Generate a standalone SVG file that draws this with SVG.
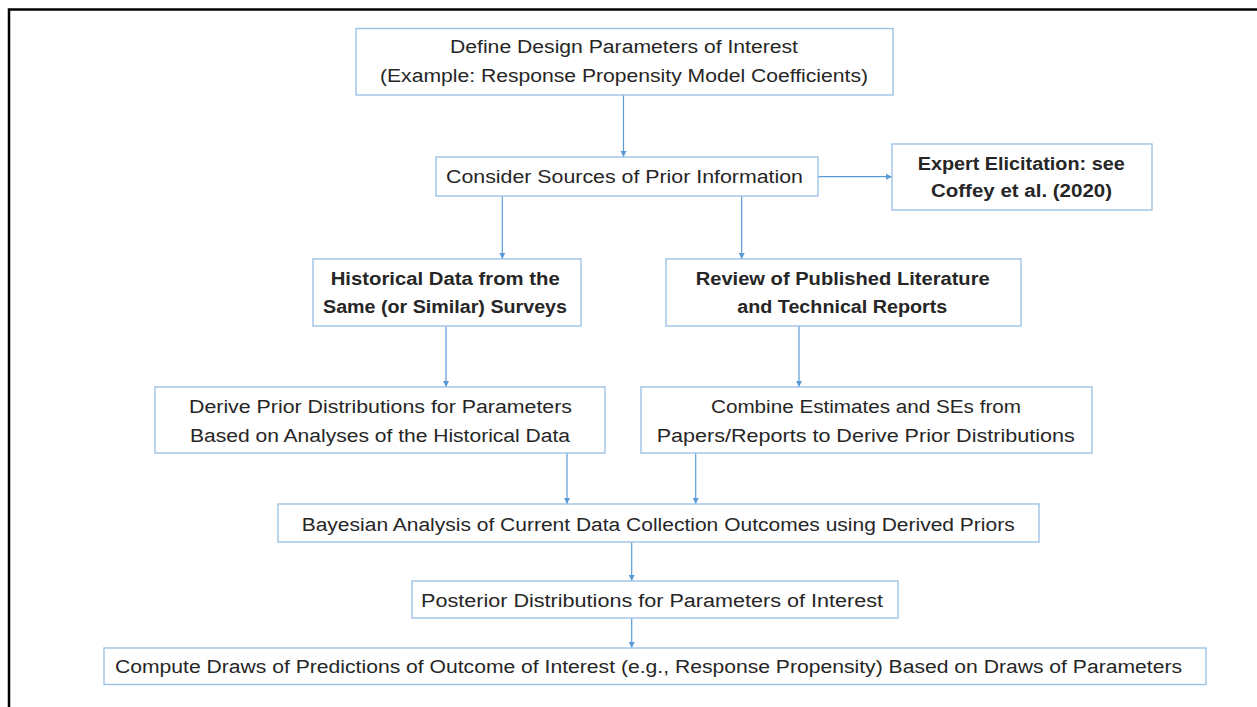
<svg xmlns="http://www.w3.org/2000/svg" width="1257" height="707" viewBox="0 0 1257 707">
<defs>
<style>
.box{fill:#ffffff;stroke:#9DC3E6;stroke-width:1.4}
.t{font-family:"Liberation Sans",Arial,sans-serif;font-size:18px;fill:#262626}
.b{font-weight:bold}
.c{stroke:#5B9BD5;stroke-width:1.2;fill:none;marker-end:url(#ah)}
</style>
<marker id="ah" markerUnits="userSpaceOnUse" markerWidth="7" markerHeight="7" refX="6" refY="3" orient="auto">
<path d="M0,0 L6,3 L0,6 z" fill="#5B9BD5"/>
</marker>
</defs>
<rect x="0" y="0" width="1257" height="707" fill="#ffffff"/>
<path d="M9,710 L9,9.5 L1260,9.5" fill="none" stroke="#000000" stroke-width="2.5"/>

<g id="connectors">
<line class="c" x1="623.5" y1="95" x2="623.5" y2="157"/>
<line class="c" x1="818" y1="176.7" x2="892" y2="176.7"/>
<line class="c" x1="502.3" y1="196" x2="502.3" y2="259"/>
<line class="c" x1="741.7" y1="196" x2="741.7" y2="259"/>
<line class="c" x1="446" y1="326" x2="446" y2="387"/>
<line class="c" x1="799" y1="326" x2="799" y2="387"/>
<line class="c" x1="567" y1="453" x2="567" y2="504"/>
<line class="c" x1="695.7" y1="453" x2="695.7" y2="504"/>
<line class="c" x1="631.7" y1="542" x2="631.7" y2="581"/>
<line class="c" x1="631.7" y1="618" x2="631.7" y2="648"/>
</g>

<g id="n1">
<rect class="box" x="356" y="28.5" width="537" height="66.5"/>
<text class="t" x="450" y="53" textLength="348" lengthAdjust="spacingAndGlyphs">Define Design Parameters of Interest</text>
<text class="t" x="380" y="82" textLength="488" lengthAdjust="spacingAndGlyphs">(Example: Response Propensity Model Coefficients)</text>
</g>

<g id="n2">
<rect class="box" x="436" y="157" width="382" height="39"/>
<text class="t" x="446" y="183" textLength="357" lengthAdjust="spacingAndGlyphs">Consider Sources of Prior Information</text>
</g>

<g id="n3">
<rect class="box" x="892" y="144" width="260" height="66"/>
<text class="t b" x="917.7" y="170" textLength="207" lengthAdjust="spacingAndGlyphs">Expert Elicitation: see</text>
<text class="t b" x="931" y="197" textLength="181" lengthAdjust="spacingAndGlyphs">Coffey et al. (2020)</text>
</g>

<g id="n4">
<rect class="box" x="313" y="259" width="268" height="67"/>
<text class="t b" x="330.7" y="285" textLength="229" lengthAdjust="spacingAndGlyphs">Historical Data from the</text>
<text class="t b" x="323" y="313" textLength="244" lengthAdjust="spacingAndGlyphs">Same (or Similar) Surveys</text>
</g>

<g id="n5">
<rect class="box" x="666" y="259" width="355" height="67"/>
<text class="t b" x="695.7" y="285" textLength="294" lengthAdjust="spacingAndGlyphs">Review of Published Literature</text>
<text class="t b" x="737.3" y="313" textLength="210" lengthAdjust="spacingAndGlyphs">and Technical Reports</text>
</g>

<g id="n6">
<rect class="box" x="155" y="387" width="450" height="66"/>
<text class="t" x="189" y="413" textLength="383" lengthAdjust="spacingAndGlyphs">Derive Prior Distributions for Parameters</text>
<text class="t" x="190" y="441.5" textLength="380" lengthAdjust="spacingAndGlyphs">Based on Analyses of the Historical Data</text>
</g>

<g id="n7">
<rect class="box" x="641" y="387" width="451" height="66"/>
<text class="t" x="711" y="413" textLength="310" lengthAdjust="spacingAndGlyphs">Combine Estimates and SEs from</text>
<text class="t" x="656.7" y="441.5" textLength="418" lengthAdjust="spacingAndGlyphs">Papers/Reports to Derive Prior Distributions</text>
</g>

<g id="n8">
<rect class="box" x="278" y="504" width="761" height="38"/>
<text class="t" x="301.7" y="530.5" textLength="713" lengthAdjust="spacingAndGlyphs">Bayesian Analysis of Current Data Collection Outcomes using Derived Priors</text>
</g>

<g id="n9">
<rect class="box" x="412" y="581" width="486" height="37"/>
<text class="t" x="421" y="606.5" textLength="462" lengthAdjust="spacingAndGlyphs">Posterior Distributions for Parameters of Interest</text>
</g>

<g id="n10">
<rect class="box" x="104" y="648" width="1102" height="36.5"/>
<text class="t" x="115" y="672.5" textLength="1067" lengthAdjust="spacingAndGlyphs">Compute Draws of Predictions of Outcome of Interest (e.g., Response Propensity) Based on Draws of Parameters</text>
</g>
</svg>
